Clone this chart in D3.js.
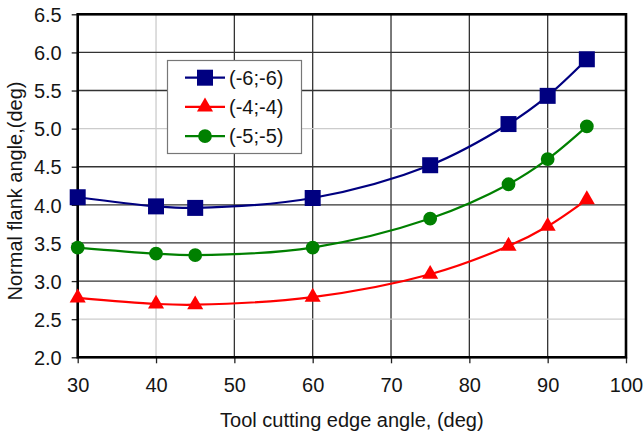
<!DOCTYPE html>
<html>
<head>
<meta charset="utf-8">
<script src="https://cdn.jsdelivr.net/npm/d3@7/dist/d3.min.js"></script>
<style>
  html, body { margin: 0; padding: 0; background: #fff; }
  svg { display: block; }
  text { font-family: "Liberation Sans", Arial, sans-serif; fill: #151515; }
</style>
</head>
<body>
<svg id="chart" width="643" height="434"></svg>
<script>
// Tool cutting edge angle (deg)
const angles = [30, 40, 45, 60, 75, 85, 90, 95];
// Normal flank angle (deg) for each cutting-edge configuration
const series66 = [4.10, 3.98, 3.96, 4.09, 4.52, 5.06, 5.43, 5.91];
const series44 = [2.78, 2.70, 2.69, 2.79, 3.09, 3.46, 3.72, 4.07];
const series55 = [3.44, 3.36, 3.34, 3.44, 3.82, 4.27, 4.60, 5.03];
const seriesNames = ["(-6;-6)", "(-4;-4)", "(-5;-5)"];
const xTicks = [30, 40, 50, 60, 70, 80, 90, 100];
const yTicks = [2.0, 2.5, 3.0, 3.5, 4.0, 4.5, 5.0, 5.5, 6.0, 6.5];
// grid lines drawn in a lighter tone
const lightX = [40];
const lightY = [2.5, 5.0];

const svg = d3.select("#chart");
const plotLeft = 77.7, plotRight = 626, plotTop = 14.3, plotBottom = 357.3;

const x = d3.scaleLinear().domain([30, 100]).range([plotLeft, plotRight]);
const y = d3.scaleLinear().domain([2.0, 6.5]).range([plotBottom, plotTop]);

const fontSize = "20px";

// gridlines
const grid = svg.append("g");
grid.selectAll("line.gx").data(xTicks.slice(1, -1)).join("line")
  .attr("x1", d => x(d)).attr("x2", d => x(d))
  .attr("y1", plotTop).attr("y2", plotBottom)
  .attr("stroke", d => lightX.includes(d) ? "#cccccc" : "#333333")
  .attr("stroke-width", 1.3);
grid.selectAll("line.gy").data(yTicks.slice(1, -1)).join("line")
  .attr("x1", plotLeft).attr("x2", plotRight)
  .attr("y1", d => y(d)).attr("y2", d => y(d))
  .attr("stroke", d => lightY.includes(d) ? "#cccccc" : "#333333")
  .attr("stroke-width", 1.3);

// axes
const xAxis = d3.axisBottom(x).tickValues(xTicks).tickSize(6).tickSizeOuter(0)
  .tickFormat(d3.format("d"));
const yAxis = d3.axisLeft(y).tickValues(yTicks).tickSize(6).tickSizeOuter(0)
  .tickFormat(d3.format(".1f"));

const gx = svg.append("g").attr("transform", `translate(0,${plotBottom})`).call(xAxis);
const gy = svg.append("g").attr("transform", `translate(${plotLeft},0)`).call(yAxis);
[gx, gy].forEach(g => {
  g.select(".domain").remove();
  g.selectAll(".tick line").attr("stroke", "#222").attr("stroke-width", 1.3);
  g.selectAll(".tick text").style("font-size", fontSize).attr("fill", "#151515");
});
gx.selectAll(".tick text").attr("dy", "1.3em");
gy.selectAll(".tick text").attr("x", -16).attr("dy", "0.36em");

// plot frame
svg.append("rect")
  .attr("x", plotLeft).attr("y", plotTop)
  .attr("width", plotRight - plotLeft).attr("height", plotBottom - plotTop)
  .attr("fill", "none").attr("stroke", "#000").attr("stroke-width", 2.6);

// series
const series = [
  { name: seriesNames[0], values: series66, color: "#000080", symbol: d3.symbolSquare, size: 256 },
  { name: seriesNames[1], values: series44, color: "#ff0000", symbol: d3.symbolTriangle, size: 112 },
  { name: seriesNames[2], values: series55, color: "#008000", symbol: d3.symbolCircle, size: 150 }
];

const line = d3.line()
  .x((d, i) => x(angles[i]))
  .y(d => y(d))
  .curve(d3.curveCatmullRom.alpha(0.5));

series.forEach(s => {
  svg.append("path")
    .datum(s.values)
    .attr("d", line)
    .attr("fill", "none")
    .attr("stroke", s.color)
    .attr("stroke-width", 2.2);
  svg.append("g").selectAll("path").data(s.values).join("path")
    .attr("transform", (d, i) => `translate(${x(angles[i])},${y(d)})`)
    .attr("d", d3.symbol().type(s.symbol).size(s.size))
    .attr("fill", s.color);
});

// legend
const lg = svg.append("g");
lg.append("rect")
  .attr("x", 167.5).attr("y", 60.5).attr("width", 134).attr("height", 93)
  .attr("fill", "#fff").attr("stroke", "#777").attr("stroke-width", 1.2);
series.forEach((s, i) => {
  const cy = 77.7 + i * 29.2;
  lg.append("line")
    .attr("x1", 185).attr("x2", 225).attr("y1", cy).attr("y2", cy)
    .attr("stroke", s.color).attr("stroke-width", 2.2);
  lg.append("path")
    .attr("transform", `translate(205,${cy})`)
    .attr("d", d3.symbol().type(s.symbol).size(s.size))
    .attr("fill", s.color);
  lg.append("text")
    .attr("x", 229).attr("y", cy).attr("dy", "0.36em")
    .style("font-size", fontSize)
    .text(s.name);
});

// axis titles
svg.append("text")
  .attr("x", (plotLeft + plotRight) / 2).attr("y", 427)
  .attr("text-anchor", "middle")
  .style("font-size", fontSize)
  .text("Tool cutting edge angle, (deg)");
svg.append("text")
  .attr("transform", "translate(22,191) rotate(-90)")
  .attr("text-anchor", "middle")
  .style("font-size", fontSize)
  .text("Normal flank angle,(deg)");
</script>
</body>
</html>
